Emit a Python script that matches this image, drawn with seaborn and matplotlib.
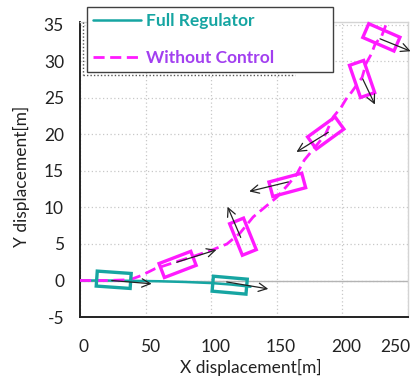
import numpy as np
import pandas as pd
import matplotlib
matplotlib.use("Agg")
import matplotlib.pyplot as plt
import matplotlib.transforms as mtransforms
from matplotlib.patches import Rectangle
from matplotlib.lines import Line2D
from matplotlib.ticker import MultipleLocator
import seaborn as sns

# trajectories
reg_x = [0, 20, 40, 60, 80, 100, 115, 130]
reg_y = [0, 0, -0.05, -0.1, -0.2, -0.35, -0.55, -0.85]

free_x = [0, 20, 38, 47, 57, 74, 88, 101, 112, 122, 132, 140, 150, 158, 165,
          171, 177, 187, 193, 199, 203, 207, 215, 218, 222, 225, 230, 234]
free_y = [0, 0, 0.1, 0.7, 1.6, 2.6, 3.4, 4.2, 5.0, 6.5, 8.7, 9.9, 11.4, 13.0, 14.5,
          16.5, 17.8, 20.0, 22.4, 23.7, 24.9, 25.8, 27.8, 29.7, 31.0, 32.4, 33.5, 35.4]

# vehicle poses (x, y, heading in screen degrees)
reg_car_x = [25.7, 114.1]
reg_car_y = [0.1, -0.64]
reg_car_ang = [-4, -5]

free_car_x = [74.4, 124.2, 158.0, 187.3, 215.0, 229.7]
free_car_y = [2.2, 6.0, 13.1, 20.2, 27.6, 33.3]
free_car_ang = [21, 112, 15, 36, 109, -23.5]

# velocity arrows (tail -> head)
arr_x0 = [24.2, 111.8, 73.7, 122.5, 158.8, 189.3, 215.5, 228.7]
arr_y0 = [0.0, -0.2, 2.5, 5.9, 13.5, 20.3, 27.6, 33.1]
arr_x1 = [54.6, 143.5, 104.0, 112.5, 129.0, 165.0, 224.8, 252.0]
arr_y1 = [-0.45, -1.15, 4.2, 10.1, 12.2, 17.6, 24.1, 31.4]

xticks = [0, 50, 100, 150, 200, 250]
yticks = [-5, 0, 5, 10, 15, 20, 25, 30, 35]

teal = "#16a5a2"
magenta = "#ff1aff"
purple = "#a23ff0"

sns.set_style("white")
plt.rcParams["font.family"] = ["Lato", "DejaVu Sans"]

fig = plt.figure(figsize=(4.14, 3.85), dpi=100)
ax = fig.add_axes([0.1932, 0.1766, 0.7923, 0.7662])

ax.axhline(0, color="#b4b4b4", lw=1.0, zorder=1)

sns.lineplot(x=reg_x, y=reg_y, sort=False, estimator=None, color=teal, lw=1.8,
             ax=ax, label="Full Regulator", zorder=3)
sns.lineplot(x=free_x, y=free_y, sort=False, estimator=None, color=magenta, lw=2.0,
             ax=ax, label="Without Control", zorder=3)
ax.lines[-1].set_dashes((4, 2))

ax.set_xlim(0, 250)
ax.set_ylim(-5, 35.4)

L, W = 34, 15  # car size in pixels


def draw_car(cx, cy, ang, col):
    tr = mtransforms.Affine2D().rotate_deg(ang) + mtransforms.ScaledTranslation(cx, cy, ax.transData)
    ax.add_patch(Rectangle((-L / 2, -W / 2), L, W, transform=tr, fill=False,
                           edgecolor=col, lw=2.4, zorder=4, clip_on=False))


for cx, cy, a in zip(reg_car_x, reg_car_y, reg_car_ang):
    draw_car(cx, cy, a, teal)
for cx, cy, a in zip(free_car_x, free_car_y, free_car_ang):
    draw_car(cx, cy, a, magenta)

for x0, y0, x1, y1 in zip(arr_x0, arr_y0, arr_x1, arr_y1):
    ax.annotate("", xy=(x1, y1), xytext=(x0, y0), annotation_clip=False,
                arrowprops=dict(arrowstyle="->", color="#222222", lw=0.9,
                                shrinkA=0, shrinkB=0, mutation_scale=15), zorder=5)

ax.set_xticks(xticks, [str(v) for v in xticks])
ax.set_yticks(yticks, [str(v) for v in yticks])
ax.xaxis.set_minor_locator(MultipleLocator(10))
ax.yaxis.set_minor_locator(MultipleLocator(1))
ax.grid(True, which="major", color="#c8c8c8", ls=(0, (1, 2)), lw=0.9)
ax.tick_params(axis="both", which="major", direction="inout", length=11, width=1.2,
               labelsize=12.5, color="#222222", labelcolor="#222222")
ax.tick_params(axis="both", which="minor", direction="in", length=5, width=1.0, color="#222222")
ax.tick_params(axis="x", which="major", pad=10)
ax.tick_params(axis="y", which="major", pad=6)
ax.tick_params(axis="both", which="both", top=False, right=False)

for s in ["left", "bottom"]:
    ax.spines[s].set_color("#222222")
    ax.spines[s].set_linewidth(1.4)
for s in ["top", "right"]:
    ax.spines[s].set_color("#d4d4d4")
    ax.spines[s].set_linewidth(1.0)

ax.set_xlabel("X displacement[m]", fontsize=12.5, color="#222222", labelpad=3, x=0.522)
ax.set_ylabel("Y displacement[m]", fontsize=12.5, color="#222222", labelpad=10, y=0.476)

# nudge x tick labels a little right, keep the last one inside the figure
shift = mtransforms.ScaledTranslation(4 / 100, 0, fig.dpi_scale_trans)
for t in ax.get_xticklabels():
    if t.get_text() == "250":
        t.set_horizontalalignment("right")
        t.set_transform(t.get_transform() + mtransforms.ScaledTranslation(2 / 100, 0, fig.dpi_scale_trans))
    else:
        t.set_transform(t.get_transform() + shift)

leg = ax.legend(loc="upper left", bbox_to_anchor=(0.209, 0.982, 0.595, 0.0),
                bbox_transform=fig.transFigure, mode="expand",
                frameon=True, fancybox=False, framealpha=1, edgecolor="#404040",
                handlelength=2.8, handletextpad=0.3, labelspacing=1.2, borderpad=0.35,
                borderaxespad=0, prop={"weight": "bold", "size": 12.5})
leg.get_frame().set_linewidth(1.0)
leg.set_zorder(10)
for t, c in zip(leg.get_texts(), [teal, purple]):
    t.set_color(c)

# dotted shadow of the legend box
fig.add_artist(Line2D([83 / 414, 83 / 414], [1 - 22 / 385, 1 - 75 / 385], transform=fig.transFigure,
                      color="#555555", lw=1.0, ls=(0, (1, 1.5)), zorder=9))
fig.add_artist(Line2D([83 / 414, 295 / 414], [1 - 75 / 385, 1 - 75 / 385], transform=fig.transFigure,
                      color="#555555", lw=1.0, ls=(0, (1, 1.5)), zorder=9))

fig.savefig("out.png", dpi=100)
